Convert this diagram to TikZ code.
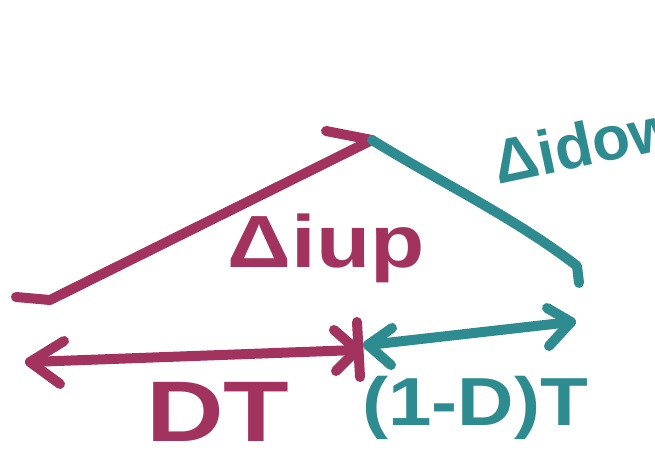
\documentclass[tikz,border=0pt]{standalone}
\usepackage{fontspec}
\setmainfont{Liberation Sans}
\definecolor{ink1}{HTML}{A2335F}
\definecolor{ink2}{HTML}{2E8B8F}
\begin{document}
\begin{tikzpicture}[x=1pt,y=-1pt,
  marker/.style={line width=10pt,line cap=round,line join=round},
  upink/.style={marker,draw=ink1},
  downink/.style={marker,draw=ink2},
  hand/.style={inner sep=0pt,font=\bfseries}]
\useasboundingbox (0,0) rectangle (655,457);
\clip (0,0) rectangle (655,457);

% current ramp: rising then falling
\coordinate (upL) at (50,300);
\coordinate (tail) at (16,297);
\coordinate (peak) at (372,140);
\coordinate (barbP) at (326,131);
\coordinate (downR) at (577,266);
\coordinate (downT) at (579,283);
\draw[upink] (tail) -- (upL) -- (peak);
\draw[upink] (barbP) -- (peak);
\draw[downink] (peak) .. controls (440,182) and (515,218) .. (downR) -- (downT);

% time interval D T
\coordinate (aL) at (30,362);
\coordinate (aLu) at (64,341);
\coordinate (aLd) at (60,384);
\coordinate (aM) at (357,350);
\coordinate (aMu) at (334,330);
\coordinate (aMd) at (336,371);
\coordinate (tickU) at (357,322);
\coordinate (tickD) at (360,377);
\draw[upink] (aLu) -- (aL) -- (aLd);
\draw[upink] (aL) -- (aM);
\draw[upink] (aMu) -- (aM) -- (aMd);
\draw[upink] (tickU) -- (tickD);

% time interval (1-D) T
\coordinate (bL) at (368,345);
\coordinate (bLu) at (392,328);
\coordinate (bLd) at (391,365);
\coordinate (bR) at (571,322);
\coordinate (bRu) at (547,308);
\coordinate (bRd) at (549,346);
\draw[downink] (bLu) -- (bL) -- (bLd);
\draw[downink] (bL) -- (bR);
\draw[downink] (bRu) -- (bR) -- (bRd);

% labels
\node[hand,text=ink1,font=\bfseries\fontsize{74}{74}\selectfont,xscale=1.2] (lup) at (326,248) {Δiup};
\node[hand,text=ink2,font=\bfseries\fontsize{62}{62}\selectfont,rotate=12,anchor=west] (ldown) at (494,163) {Δidown};
\node[hand,text=ink1,font=\bfseries\fontsize{86}{86}\selectfont,xscale=1.25] (ldt) at (218,412) {DT};
\node[hand,text=ink2,font=\bfseries\fontsize{68}{68}\selectfont,xscale=1.15] (lodt) at (475,408) {(1-D)T};
\end{tikzpicture}
\end{document}
